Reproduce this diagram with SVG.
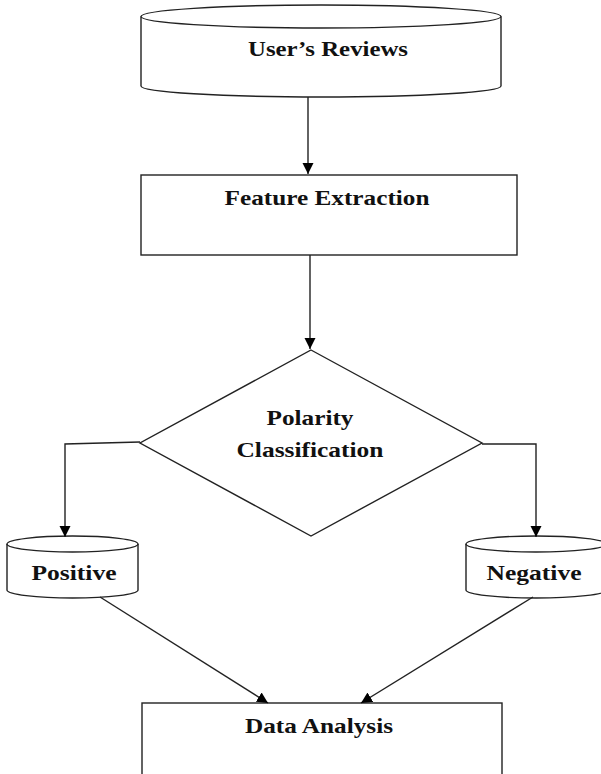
<svg xmlns="http://www.w3.org/2000/svg" width="601" height="774" viewBox="0 0 601 774">
<defs>
<marker id="arr" markerWidth="12" markerHeight="12" refX="11" refY="6" orient="auto" markerUnits="userSpaceOnUse">
<path d="M0,0.5 L11,6 L0,11.5 Z" fill="#000"/>
</marker>
</defs>
<style>
.s{fill:#fff;stroke:#222;stroke-width:1.4}
.c{fill:none;stroke:#222;stroke-width:1.4}
.t{font-family:"Liberation Serif","Times New Roman",serif;font-weight:bold;font-size:22px;fill:#111;text-anchor:middle}
</style>
<rect width="601" height="774" fill="#fff"/>
<g id="users-reviews">
<path class="s" d="M141,16.5 L141,86 A180,11 0 0 0 501,86 L501,16.5 A180,11.5 0 0 0 141,16.5 Z"/>
<path class="c" d="M141,16.5 A180,11.5 0 0 0 501,16.5"/>
<text class="t" font-family="Liberation Serif, serif" x="328" y="56" textLength="160" lengthAdjust="spacingAndGlyphs">User’s Reviews</text>
</g>
<g id="feature-extraction">
<rect class="s" x="141" y="175" width="376" height="80"/>
<text class="t" font-family="Liberation Serif, serif" x="327" y="205" textLength="205" lengthAdjust="spacingAndGlyphs">Feature Extraction</text>
</g>
<g id="polarity-classification">
<path class="s" d="M311,350 L482,443 L311,536 L140,443 Z"/>
<text class="t" font-family="Liberation Serif, serif" x="310" y="425" textLength="87" lengthAdjust="spacingAndGlyphs">Polarity</text>
<text class="t" font-family="Liberation Serif, serif" x="310" y="457" textLength="147" lengthAdjust="spacingAndGlyphs">Classification</text>
</g>
<g id="positive">
<path class="s" d="M7,544 L7,590 A65.5,8 0 0 0 138,590 L138,544 A65.5,8 0 0 0 7,544 Z"/>
<path class="c" d="M7,544 A65.5,8 0 0 0 138,544"/>
<text class="t" font-family="Liberation Serif, serif" x="74" y="580" textLength="85" lengthAdjust="spacingAndGlyphs">Positive</text>
</g>
<g id="negative">
<path class="s" d="M466,544 L466,590 A70,8 0 0 0 606,590 L606,544 A70,8 0 0 0 466,544 Z"/>
<path class="c" d="M466,544 A70,8 0 0 0 606,544"/>
<text class="t" font-family="Liberation Serif, serif" x="534" y="580" textLength="95" lengthAdjust="spacingAndGlyphs">Negative</text>
</g>
<g id="data-analysis">
<rect class="s" x="142" y="703" width="360" height="90"/>
<text class="t" font-family="Liberation Serif, serif" x="319" y="733" textLength="148" lengthAdjust="spacingAndGlyphs">Data Analysis</text>
</g>
<g id="connectors">
<path class="c" d="M308,97 L308,174" marker-end="url(#arr)"/>
<path class="c" d="M310,255 L310,349" marker-end="url(#arr)"/>
<path class="c" d="M140,442 L65,444 L65,537" marker-end="url(#arr)"/>
<path class="c" d="M482,444 L536,444 L536,537" marker-end="url(#arr)"/>
<path class="c" d="M100,597 L268,703" marker-end="url(#arr)"/>
<path class="c" d="M533,597 L361,703" marker-end="url(#arr)"/>
</g>
</svg>
